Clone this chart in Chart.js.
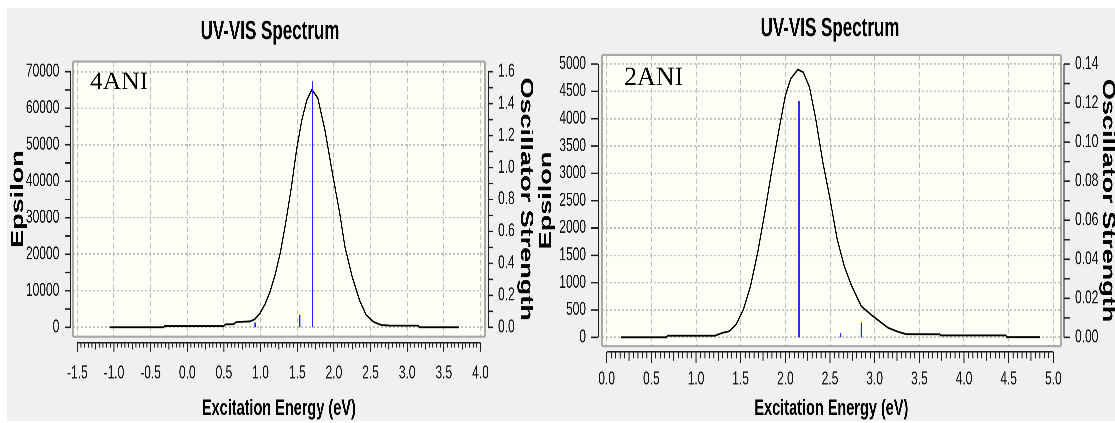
<!DOCTYPE html>
<html>
<head>
<meta charset="utf-8">
<script src="https://cdn.jsdelivr.net/npm/chart.js@4.4.1/dist/chart.umd.min.js"></script>
<style>
  html, body { margin: 0; padding: 0; background: #ffffff; width: 1115px; height: 423px; overflow: hidden; position: relative; }
  #panel { position: absolute; left: 7px; top: 8px; width: 1108px; height: 413px; background: #f0f0f0; }
  canvas { position: absolute; top: 8px; }
</style>
</head>
<body>
<div id="panel"></div>
<canvas id="c4" width="526" height="275" style="left:7px;width:526px;height:413px"></canvas>
<canvas id="c2" width="600" height="275" style="left:530px;width:600px;height:413px"></canvas>
<script>
// ---- 4ANI: broadened spectrum (eV, epsilon) and transitions (eV, oscillator strength)
const energy4  = [-1.06, -0.32, -0.31, 0.50, 0.52, 0.63, 0.67, 0.85, 0.92, 0.99, 1.06, 1.13, 1.20, 1.27, 1.34, 1.42, 1.49, 1.56, 1.63, 1.70,
                  1.78, 1.88, 1.98, 2.08, 2.15, 2.25, 2.35, 2.44, 2.54, 2.64, 2.75, 3.15, 3.17, 3.71];
const epsilon4 = [0, 0, 360, 360, 800, 850, 1450, 1600, 2200, 3800, 6300, 9800, 14500, 20500, 28300, 38300, 48500, 56500, 62200, 65100,
                  62800, 53800, 42200, 31200, 22100, 13800, 7400, 3400, 1500, 650, 470, 460, 0, 0];
const stickE4  = [0.925, 1.535, 1.71];
const stickF4  = [0.03, 0.079, 1.54];
const xTicks4   = ['-1.5', '-1.0', '-0.5', '0.0', '0.5', '1.0', '1.5', '2.0', '2.5', '3.0', '3.5', '4.0'];
const epsTicks4 = ['0', '10000', '20000', '30000', '40000', '50000', '60000', '70000'];
const oscTicks4 = ['0.0', '0.2', '0.4', '0.6', '0.8', '1.0', '1.2', '1.4', '1.6'];

// ---- 2ANI
const energy2  = [0.16, 0.67, 0.68, 1.21, 1.29, 1.37, 1.45, 1.53, 1.61, 1.69, 1.77, 1.85, 1.93, 2.00, 2.06, 2.14, 2.20, 2.27, 2.34, 2.42,
                  2.49, 2.58, 2.66, 2.74, 2.85, 2.97, 3.05, 3.15, 3.25, 3.35, 3.73, 3.74, 4.47, 4.48, 4.85];
const epsilon2 = [0, 0, 30, 30, 80, 110, 240, 510, 935, 1550, 2280, 3070, 3810, 4420, 4730, 4900, 4850, 4580, 4000, 3200,
                  2620, 1800, 1300, 950, 570, 400, 300, 175, 110, 60, 55, 35, 35, 5, 5];
const stickE2  = [2.153, 2.62, 2.85];
const stickF2  = [0.121, 0.0022, 0.0076];
const xTicks2   = ['0.0', '0.5', '1.0', '1.5', '2.0', '2.5', '3.0', '3.5', '4.0', '4.5', '5.0'];
const epsTicks2 = ['0', '500', '1000', '1500', '2000', '2500', '3000', '3500', '4000', '4500', '5000'];
const oscTicks2 = ['0.00', '0.02', '0.04', '0.06', '0.08', '0.10', '0.12', '0.14'];

// The canvases are laid out at 275 units tall and displayed 413 px tall.
const SY = 413 / 275;
const SANS = "'Liberation Sans', Arial, Helvetica, sans-serif";
const SERIF = "'Liberation Serif', 'Times New Roman', serif";
const GRID = '#bdbdbd';

const curve = (xs, ys) => xs.map((x, i) => ({ x, y: ys[i] }));
const sticks = (xs, fs) => xs.flatMap((x, i) => [{ x, y: 0 }, { x, y: fs[i] }, { x, y: null }]);
const fixedTicks = labels => scale => { scale.ticks = labels.map(l => ({ value: parseFloat(l) })); };

// Plot box, axis spines with major/minor ticks and the energy ruler under the box.
const frame = {
  id: 'frame',
  beforeDraw(chart, _args, o) {
    const { ctx, chartArea: a } = chart;
    ctx.save();
    ctx.fillStyle = o.fill;
    ctx.fillRect(a.left, a.top, a.right - a.left, a.bottom - a.top);
    ctx.restore();
  },
  afterDraw(chart, _args, o) {
    const { ctx, chartArea: a, scales: { x, y, y1 } } = chart;
    const seg = (x0, y0, x1, y1_) => { ctx.beginPath(); ctx.moveTo(x0, y0); ctx.lineTo(x1, y1_); ctx.stroke(); };
    ctx.save();
    // box
    ctx.strokeStyle = o.border;
    ctx.lineWidth = 2;
    seg(a.left, a.top, a.left, a.bottom);
    seg(a.right, a.top, a.right, a.bottom);
    ctx.lineWidth = 1.4;
    seg(a.left, a.top, a.right, a.top);
    seg(a.left, a.bottom, a.right, a.bottom);

    ctx.strokeStyle = o.axis;
    ctx.lineWidth = 1;
    // left (epsilon) spine
    const yTop = y.ticks[y.ticks.length - 1].value;
    const xl = a.left - o.gapL;
    seg(xl, y.getPixelForValue(0), xl, y.getPixelForValue(yTop));
    const nL = Math.round(yTop / o.stepL);
    for (let k = 0; k <= nL; k++) {
      const py = y.getPixelForValue(k * o.stepL);
      seg(xl - o.tickL, py, xl, py);
    }
    // right (oscillator strength) spine
    const fTop = y1.ticks[y1.ticks.length - 1].value;
    const xr = a.right + o.gapR;
    seg(xr, y1.getPixelForValue(0), xr, y1.getPixelForValue(fTop));
    const nR = Math.round(fTop / o.stepR);
    for (let k = 0; k <= nR; k++) {
      const py = y1.getPixelForValue(k * o.stepR);
      seg(xr, py, xr + o.tickR, py);
    }
    // ruler
    const x0 = x.ticks[0].value, x1 = x.ticks[x.ticks.length - 1].value;
    const ry = a.bottom + o.rulerGap;
    ctx.lineWidth = 1.1;
    seg(x.getPixelForValue(x0), ry, x.getPixelForValue(x1), ry);
    ctx.lineWidth = 1;
    const n = Math.round((x1 - x0) / 0.05);
    for (let k = 0; k <= n; k++) {
      const px = x.getPixelForValue(x0 + k * 0.05);
      const len = k % 10 === 0 ? o.major : (k % 5 === 0 ? o.mid : o.minor);
      seg(px, ry, px, ry + len);
    }
    ctx.restore();
  }
};

// Compound name written inside the plot box.
const tag = {
  id: 'tag',
  afterDatasetsDraw(chart, _args, o) {
    const ctx = chart.ctx;
    ctx.save();
    ctx.translate(o.x, o.y);
    ctx.scale(1, 1 / SY);
    ctx.font = o.size + 'px ' + SERIF;
    ctx.fillStyle = '#000';
    ctx.textBaseline = 'alphabetic';
    ctx.textAlign = 'left';
    ctx.fillText(o.text, 0, 0);
    ctx.restore();
  }
};

function spectrum(id, c) {
  const tickFont = { family: SANS, size: 12 };
  const axisTitle = (text, pad) => ({
    display: true, text, color: '#000',
    font: { family: SANS, size: 18, weight: 'bold', lineHeight: 1 },
    padding: { top: pad, bottom: 0 }
  });
  return new Chart(document.getElementById(id), {
    type: 'scatter',
    data: {
      datasets: [
        { data: sticks(c.stickE, c.stickF), showLine: true, spanGaps: false, borderColor: '#2222ff', borderWidth: 1.3, pointRadius: 0, yAxisID: 'y1' },
        { data: curve(c.energy, c.eps), showLine: true, borderColor: '#000000', borderWidth: 1.2, pointRadius: 0, yAxisID: 'y' }
      ]
    },
    options: {
      responsive: false,
      animation: false,
      devicePixelRatio: 3,
      events: [],
      layout: { padding: 0 },
      plugins: {
        legend: { display: false },
        tooltip: { enabled: false },
        title: {
          display: true, text: 'UV-VIS Spectrum', color: '#000',
          font: { family: SANS, size: 17, weight: 'bold', lineHeight: 1.2 },
          padding: c.titlePad
        },
        frame: Object.assign({ fill: '#fefef6', border: '#a8a8a8', axis: '#1a1a1a' }, c.frame),
        tag: c.tag
      },
      scales: {
        x: {
          type: 'linear', position: 'bottom', min: c.xRange[0], max: c.xRange[1],
          afterBuildTicks: fixedTicks(c.xTicks),
          afterFit: s => { s.height = c.xH; },
          grid: { color: GRID, lineWidth: 1, drawTicks: false },
          border: { display: false, dash: [3.5, 2] },
          ticks: { autoSkip: false, maxRotation: 0, padding: c.xPad, font: tickFont, color: '#111', callback: (v, i) => c.xTicks[i] },
          title: {
            display: true, text: 'Excitation Energy (eV)', color: '#000',
            font: { family: SANS, size: 14.5, weight: 'bold', lineHeight: 1 },
            padding: { top: 0, bottom: 0.75 }
          }
        },
        y: {
          type: 'linear', position: 'left', min: c.yRange[0], max: c.yRange[1],
          afterBuildTicks: fixedTicks(c.epsTicks),
          afterFit: s => { s.width = c.yW; },
          grid: { color: GRID, lineWidth: 1, drawTicks: false },
          border: { display: false, dash: [2, 2] },
          ticks: { autoSkip: false, padding: c.yPad, font: tickFont, color: '#111', callback: (v, i) => c.epsTicks[i] },
          title: axisTitle('Epsilon', c.epsTitlePad)
        },
        y1: {
          type: 'linear', position: 'right', min: c.fRange[0], max: c.fRange[1],
          afterBuildTicks: fixedTicks(c.oscTicks),
          afterFit: s => { s.width = c.y1W; },
          grid: { display: false, drawTicks: false, drawOnChartArea: false },
          border: { display: false },
          ticks: { autoSkip: false, padding: c.y1Pad, font: tickFont, color: '#111', callback: (v, i) => c.oscTicks[i] },
          title: axisTitle('Oscillator Strength', c.oscTitlePad)
        }
      }
    },
    plugins: [frame, tag]
  });
}

spectrum('c4', {
  energy: energy4, eps: epsilon4, stickE: stickE4, stickF: stickF4,
  xTicks: xTicks4, epsTicks: epsTicks4, oscTicks: oscTicks4,
  xRange: [-1.5628, 4.0614], yRange: [-2591, 72797], fRange: [-2591 * 1.6 / 70000, 72797 * 1.6 / 70000],
  xH: 56.1, yW: 65.7, y1W: 48,
  xPad: 17.1, yPad: 13.4, y1Pad: 13,
  titlePad: { top: 5.8, bottom: 9.4 },
  epsTitlePad: 2, oscTitlePad: -2,
  frame: { gapL: 2, tickL: 5.7, stepL: 5000, gapR: 3.3, tickR: 4.7, stepR: 0.1, rulerGap: 4.0, major: 6, mid: 4.5, minor: 3.2 },
  tag: { text: '4ANI', x: 83, y: 53.9, size: 25.5 }
});

spectrum('c2', {
  energy: energy2, eps: epsilon2, stickE: stickE2, stickF: stickF2,
  xTicks: xTicks2, epsTicks: epsTicks2, oscTicks: oscTicks2,
  xRange: [-0.056, 5.0862], yRange: [-159.3, 5164.8], fRange: [-159.3 * 0.14 / 5000, 5164.8 * 0.14 / 5000],
  xH: 49.9, yW: 71.7, y1W: 69,
  xPad: 15.1, yPad: 15.7, y1Pad: 14,
  titlePad: { top: 3.8, bottom: 7.1 },
  epsTitlePad: 7, oscTitlePad: 13,
  frame: { gapL: 3.4, tickL: 7.6, stepL: 500, gapR: 3, tickR: 6, stepR: 0.01, rulerGap: 3.8, major: 7.5, mid: 6, minor: 4.4 },
  tag: { text: '2ANI', x: 94, y: 51.3, size: 26 }
});
</script>
</body>
</html>
